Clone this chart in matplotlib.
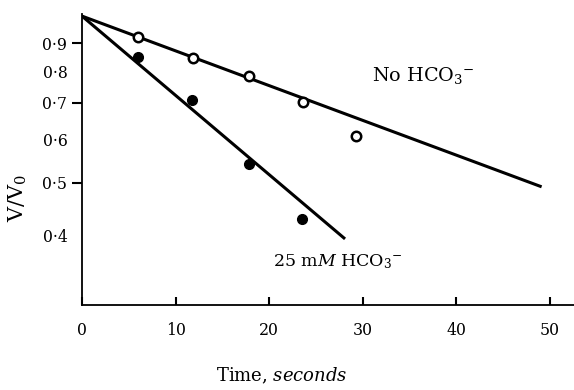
import numpy as np
import matplotlib
matplotlib.use("Agg")
import matplotlib.pyplot as plt

plt.rcParams['font.family'] = ['DejaVu Serif']
plt.rcParams['mathtext.fontset'] = 'custom'
plt.rcParams['mathtext.rm'] = 'DejaVu Serif'
plt.rcParams['mathtext.it'] = 'DejaVu Serif:italic'

# datos
t_no = [6.0, 11.9, 17.8, 23.6, 29.3]
v_no = [0.926, 0.845, 0.784, 0.704, 0.609]
t_bic = [6.0, 11.8, 17.8, 23.5]
v_bic = [0.849, 0.710, 0.541, 0.429]

# rectas ajustadas (extremos)
fit_no_t = [0.0, 49.1]
fit_no_v = [1.01, 0.491]
fit_bic_t = [0.0, 28.1]
fit_bic_v = [1.01, 0.394]

yticks_major = [0.9, 0.7, 0.5]
yticks_minor = [0.8, 0.6, 0.4]
xticks = [0, 10, 20, 30, 40, 50]

W, H = 574, 390
fig = plt.figure(figsize=(W / 100, H / 100), dpi=100)
# ejes en pixeles: x 82..574, y 14..305
ax = fig.add_axes([82 / W, 1 - 305 / H, (574 - 82) / W, (305 - 14) / H])

ax.plot(fit_no_t, fit_no_v, color='black', lw=2.2, solid_capstyle='butt')
ax.plot(fit_bic_t, fit_bic_v, color='black', lw=2.2, solid_capstyle='butt')
ax.plot(t_no, v_no, 'o', ms=6.8, mfc='white', mec='black', mew=1.8)
ax.plot(t_bic, v_bic, 'o', ms=7, mfc='black', mec='black')

ax.set_yscale('log')
ax.set_xlim(0, 52.56)
ax.set_ylim(0.298, 1.019)

ax.spines['top'].set_visible(False)
ax.spines['right'].set_visible(False)
ax.spines['left'].set_linewidth(1.3)
ax.spines['bottom'].set_linewidth(1.3)

fmt = lambda v: f"{v:.1f}".replace('.', '·')
ax.set_yticks(yticks_major, [fmt(v) for v in yticks_major])
ax.set_yticks(yticks_minor, [fmt(v) for v in yticks_minor], minor=True)
ax.tick_params(axis='y', which='major', direction='out', length=7, width=1.5, pad=3.5, labelsize=11.3)
ax.tick_params(axis='y', which='minor', length=0, pad=10.5, labelsize=11.3)

ax.set_xticks(xticks, [str(x) for x in xticks])
ax.xaxis.set_minor_locator(plt.NullLocator())
ax.tick_params(axis='x', direction='in', length=6, width=1.5, pad=12, labelsize=11.3)

fig.text(372 / W, 1 - 75 / H, "No HCO$_3$$^{-}$", fontsize=13.8, va='center', ha='left')
fig.text(273 / W, 1 - 262 / H, "25 m$M$ HCO$_3$$^{-}$", fontsize=12.5, va='center', ha='left')
fig.text(18 / W, 1 - 198 / H, "V/V$_0$", fontsize=15, rotation=90, va='center', ha='center')
fig.text(282 / W, 1 - 376 / H, "Time, $seconds$", fontsize=13, va='center', ha='center')

fig.savefig("out.png", dpi=100)
